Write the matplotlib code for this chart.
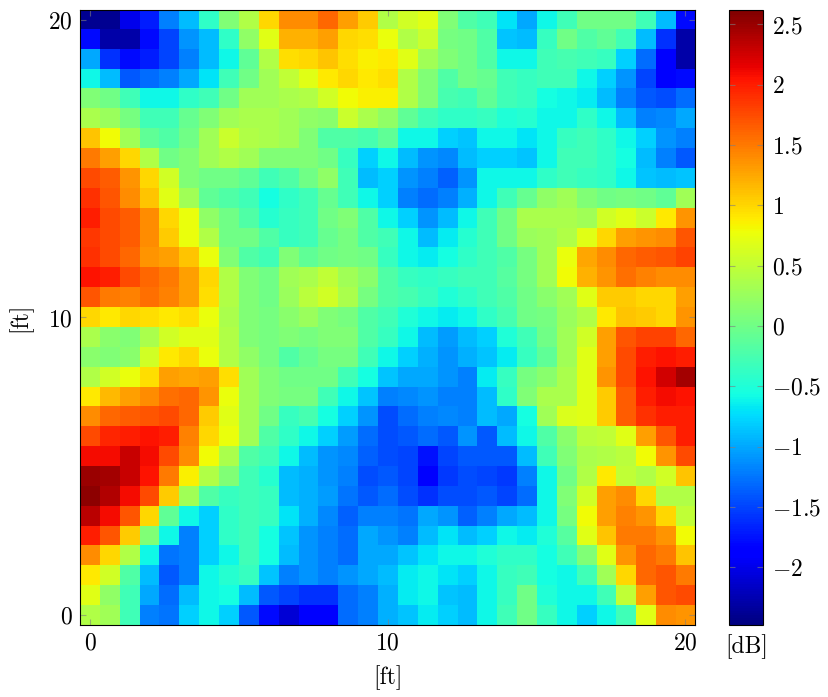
import numpy as np
import matplotlib
matplotlib.use("Agg")
import matplotlib.pyplot as plt
from matplotlib.ticker import FuncFormatter

plt.rcParams['font.family'] = 'serif'
plt.rcParams['font.serif'] = ['cmr10']
plt.rcParams['mathtext.fontset'] = 'cm'
plt.rcParams['axes.formatter.use_mathtext'] = True
plt.rcParams['font.size'] = 17

# level difference in dB, rows from y = 20 ft (top) down to y = 0 ft,
# columns from x = 0 to x = 20 ft, grid step 2/3 ft
row_00 = [-2.4, -2.4, -2.0, -1.7, -1.2, -0.9, -0.4, 0.1, 0.4, 1.0, 1.4, 1.4, 1.6, 1.3, 1.05, 0.4, 0.6, 0.7, 0.1, -0.2, -0.3, -0.7, -1.0, -0.6, -0.3, 0.0, 0.0, 0.0, -0.3, -0.9, -1.8]
row_01 = [-1.8, -2.3, -2.3, -1.8, -1.5, -1.1, -0.9, -0.4, 0.2, 0.7, 1.2, 1.2, 1.3, 1.0, 0.95, 0.75, 0.4, 0.55, 0.05, 0.0, -0.2, -0.85, -0.9, -0.35, 0.0, -0.2, -0.1, -0.3, -0.9, -1.6, -2.3]
row_02 = [-1.0, -1.6, -1.8, -1.7, -1.5, -1.2, -0.9, -0.6, -0.1, 0.4, 0.95, 1.0, 1.1, 0.95, 0.85, 0.9, 0.7, 0.3, 0.1, 0.0, -0.2, -0.6, -0.6, -0.3, -0.25, -0.3, -0.35, -0.8, -1.3, -1.9, -2.3]
row_03 = [-0.6, -0.9, -1.4, -1.3, -1.2, -1.0, -0.7, -0.3, 0.0, 0.3, 0.5, 0.7, 0.9, 1.0, 0.9, 0.95, 0.4, 0.1, -0.2, 0.0, -0.05, -0.3, -0.35, -0.3, -0.3, -0.6, -0.8, -1.1, -1.5, -1.9, -1.8]
row_04 = [0.1, 0.0, -0.3, -0.6, -0.6, -0.4, -0.3, 0.0, 0.3, 0.3, 0.35, 0.4, 0.6, 0.8, 0.85, 0.85, 0.4, 0.1, -0.25, -0.3, -0.1, -0.3, -0.35, -0.55, -0.6, -0.65, -0.9, -1.2, -1.4, -1.45, -1.3]
row_05 = [0.35, 0.25, 0.05, -0.3, -0.3, -0.05, 0.1, 0.3, 0.35, 0.35, 0.3, 0.2, 0.15, 0.55, 0.35, 0.2, -0.1, -0.3, -0.4, -0.4, -0.35, -0.5, -0.45, -0.6, -0.6, -0.4, -0.6, -0.9, -1.2, -1.15, -1.0]
row_06 = [1.1, 0.8, 0.3, -0.1, -0.2, 0.0, 0.3, 0.55, 0.4, 0.35, 0.3, 0.1, -0.2, -0.2, -0.25, -0.1, -0.6, -0.6, -0.8, -0.85, -0.6, -0.6, -0.7, -0.6, -0.35, -0.3, -0.4, -0.6, -0.8, -1.1, -1.2]
row_07 = [1.5, 1.3, 1.0, 0.4, 0.0, 0.1, 0.3, 0.4, 0.3, 0.1, 0.1, 0.1, 0.0, -0.35, -0.8, -0.6, -0.9, -1.1, -1.15, -0.9, -0.8, -0.8, -0.85, -0.6, -0.3, -0.3, -0.4, -0.55, -0.9, -1.2, -1.4]
row_08 = [1.75, 1.65, 1.35, 1.0, 0.6, 0.1, 0.0, 0.0, -0.1, -0.3, -0.2, 0.0, 0.2, -0.3, -0.9, -0.8, -1.1, -1.2, -1.35, -1.1, -0.6, -0.6, -0.6, -0.4, -0.3, -0.35, -0.4, -0.6, -0.85, -0.9, -0.85]
row_09 = [1.9, 1.7, 1.4, 1.1, 0.7, 0.3, -0.1, -0.2, -0.3, -0.55, -0.4, -0.3, -0.05, -0.3, -0.6, -0.8, -1.2, -1.3, -1.2, -0.95, -0.6, -0.3, -0.05, 0.2, 0.3, 0.1, 0.0, 0.05, 0.0, -0.1, 0.3]
row_10 = [2.0, 1.75, 1.65, 1.4, 1.0, 0.75, 0.2, 0.0, -0.2, -0.45, -0.35, -0.3, 0.0, 0.1, -0.2, -0.6, -0.8, -1.1, -0.9, -0.6, -0.3, 0.0, 0.35, 0.35, 0.35, 0.3, 0.6, 0.7, 0.55, 0.9, 1.35]
row_11 = [1.85, 1.75, 1.65, 1.4, 1.05, 0.75, 0.4, 0.0, 0.0, -0.2, -0.35, -0.3, -0.05, 0.05, -0.2, -0.3, -0.6, -0.9, -0.65, -0.45, -0.3, 0.0, 0.25, 0.3, 0.4, 0.7, 1.0, 1.3, 1.35, 1.4, 1.7]
row_12 = [1.9, 1.75, 1.6, 1.35, 1.3, 1.1, 0.75, 0.1, -0.2, -0.3, 0.1, -0.1, 0.0, 0.05, 0.0, -0.35, -0.6, -0.65, -0.55, -0.4, -0.3, -0.2, 0.05, 0.3, 0.75, 1.25, 1.4, 1.6, 1.65, 1.7, 1.8]
row_13 = [2.05, 2.0, 1.75, 1.6, 1.5, 1.3, 1.0, 0.4, 0.1, 0.0, 0.3, 0.35, 0.5, 0.3, 0.15, -0.2, -0.35, -0.4, -0.35, -0.3, -0.3, -0.15, 0.05, 0.3, 0.8, 1.2, 1.35, 1.55, 1.45, 1.4, 1.4]
row_14 = [1.7, 1.5, 1.45, 1.55, 1.45, 1.3, 0.95, 0.4, 0.1, 0.0, 0.25, 0.45, 0.6, 0.35, 0.05, -0.2, -0.25, -0.35, -0.5, -0.4, -0.3, -0.2, 0.0, 0.15, 0.3, 0.7, 1.05, 1.05, 1.0, 1.0, 1.3]
row_15 = [1.0, 0.9, 1.0, 0.95, 0.9, 0.95, 0.75, 0.35, 0.1, 0.05, 0.15, 0.25, 0.1, 0.05, -0.2, -0.3, -0.5, -0.6, -0.65, -0.6, -0.4, -0.25, 0.0, 0.05, 0.25, 0.4, 0.9, 1.1, 1.05, 1.0, 1.35]
row_16 = [0.35, 0.15, 0.1, 0.35, 0.6, 0.7, 0.7, 0.4, 0.1, 0.05, 0.1, 0.05, 0.1, 0.1, -0.2, -0.35, -0.6, -0.9, -1.05, -0.9, -0.8, -0.5, -0.3, 0.0, 0.3, 0.6, 1.3, 1.7, 1.8, 1.8, 1.6]
row_17 = [0.15, 0.1, 0.15, 0.6, 0.9, 1.0, 0.75, 0.4, 0.2, 0.05, -0.2, -0.05, 0.05, 0.05, -0.3, -0.6, -0.8, -0.95, -1.1, -0.95, -0.85, -0.65, -0.35, -0.1, 0.3, 0.7, 1.3, 1.75, 2.0, 2.05, 2.0]
row_18 = [0.4, 0.6, 0.75, 0.95, 1.3, 1.25, 1.3, 0.95, 0.3, 0.1, 0.0, 0.0, 0.0, -0.3, -0.55, -0.85, -1.0, -1.0, -1.1, -1.2, -0.65, -0.35, 0.05, 0.15, 0.35, 0.7, 1.35, 1.75, 2.05, 2.25, 2.45]
row_19 = [0.9, 1.15, 1.3, 1.4, 1.55, 1.6, 1.35, 0.75, 0.3, 0.1, 0.05, 0.05, -0.3, -0.6, -0.85, -1.2, -1.15, -1.1, -1.2, -1.2, -0.9, -0.4, 0.1, 0.35, 0.35, 0.7, 1.05, 1.65, 2.0, 2.1, 2.05]
row_20 = [1.4, 1.6, 1.65, 1.7, 1.75, 1.6, 1.05, 0.7, 0.3, 0.0, -0.35, -0.25, -0.55, -0.8, -1.1, -1.45, -1.3, -1.2, -1.15, -1.2, -0.9, -1.0, -0.55, 0.3, 0.65, 0.7, 1.05, 1.65, 1.9, 2.0, 2.0]
row_21 = [1.75, 1.95, 2.0, 2.05, 2.0, 1.45, 1.0, 0.75, 0.3, -0.2, -0.4, -0.6, -0.8, -1.05, -1.3, -1.45, -1.4, -1.3, -1.4, -1.1, -1.4, -0.9, -0.6, -0.2, 0.15, 0.45, 0.5, 0.7, 1.3, 1.7, 2.0]
row_22 = [2.1, 2.1, 2.3, 2.1, 1.75, 1.4, 0.8, 0.35, -0.2, -0.3, -0.6, -0.9, -1.1, -1.15, -1.35, -1.45, -1.5, -1.75, -1.5, -1.4, -1.4, -1.4, -0.9, -0.3, 0.1, 0.35, 0.4, 0.45, 0.8, 1.35, 1.75]
row_23 = [2.5, 2.45, 2.3, 2.05, 1.5, 0.85, 0.4, 0.1, -0.3, -0.45, -0.9, -0.95, -1.1, -1.2, -1.45, -1.4, -1.5, -1.85, -1.55, -1.45, -1.5, -1.55, -1.2, -0.6, 0.0, 0.4, 0.9, 0.5, 0.4, 0.6, 1.1]
row_24 = [2.55, 2.4, 2.1, 1.75, 1.05, 0.3, -0.2, -0.35, -0.3, -0.35, -0.9, -0.95, -1.05, -1.25, -1.4, -1.3, -1.45, -1.6, -1.45, -1.45, -1.4, -1.5, -1.3, -0.6, 0.1, 0.6, 1.3, 1.4, 1.0, 0.4, 0.4]
row_25 = [2.35, 2.1, 1.7, 1.0, -0.1, -0.6, -0.8, -0.4, -0.3, -0.35, -0.7, -0.95, -1.15, -1.35, -1.2, -1.2, -1.25, -1.0, -1.1, -1.35, -1.2, -1.0, -0.9, -0.6, 0.05, 0.8, 1.3, 1.45, 1.35, 1.0, 0.5]
row_26 = [2.0, 1.7, 1.05, 0.1, -0.6, -1.2, -0.8, -0.4, -0.3, -0.55, -0.85, -1.1, -1.2, -1.3, -1.0, -1.1, -1.2, -0.9, -0.7, -0.9, -0.8, -0.6, -0.65, -0.5, -0.15, 0.7, 1.1, 1.5, 1.5, 1.35, 0.8]
row_27 = [1.4, 1.0, 0.4, -0.6, -1.25, -1.2, -0.8, -0.6, -0.3, -0.55, -0.9, -1.1, -1.2, -1.3, -1.0, -1.0, -0.85, -0.7, -0.6, -0.6, -0.5, -0.4, -0.4, -0.55, -0.3, 0.1, 0.7, 1.35, 1.6, 1.5, 1.1]
row_28 = [0.9, 0.6, -0.2, -0.9, -1.4, -1.2, -0.6, -0.45, -0.35, -0.85, -1.2, -1.1, -1.2, -1.1, -1.0, -0.9, -0.65, -0.6, -0.7, -0.8, -0.6, -0.35, -0.3, -0.55, -0.6, -0.3, 0.3, 1.0, 1.6, 1.7, 1.5]
row_29 = [0.7, 0.2, -0.3, -1.0, -1.3, -0.9, -0.6, -0.55, -0.9, -1.4, -1.5, -1.6, -1.6, -1.3, -1.2, -0.95, -0.65, -0.6, -0.85, -0.9, -0.6, -0.35, 0.0, -0.5, -0.6, -0.6, -0.3, 0.5, 1.3, 1.7, 1.75]
row_30 = [0.4, 0.3, -0.3, -1.2, -1.25, -0.8, -0.6, -0.8, -1.4, -1.8, -2.1, -1.9, -1.85, -1.3, -1.2, -0.95, -0.85, -0.65, -0.8, -0.9, -0.6, -0.3, 0.0, -0.35, -0.6, -0.8, -0.6, -0.3, 0.7, 1.4, 1.35]

rows = [row_00, row_01, row_02, row_03, row_04, row_05, row_06, row_07,
        row_08, row_09, row_10, row_11, row_12, row_13, row_14, row_15,
        row_16, row_17, row_18, row_19, row_20, row_21, row_22, row_23,
        row_24, row_25, row_26, row_27, row_28, row_29, row_30]

x_ticks = [0, 10, 20]
y_ticks = [0, 10, 20]
cbar_ticks = [-2, -1.5, -1, -0.5, 0, 0.5, 1, 1.5, 2, 2.5]


def main():
    level = np.array(rows)
    half = 20 / (len(row_00) - 1) / 2

    fig = plt.figure(figsize=(8.29, 6.97), dpi=100)
    ax = fig.add_axes([0.0965, 0.1033, 0.742, 0.8824])
    cax = fig.add_axes([0.8797, 0.1033, 0.041, 0.8824])

    im = ax.imshow(level, cmap='jet', vmin=-2.48, vmax=2.62,
                   extent=[-half, 20 + half, -half, 20 + half],
                   origin='upper', interpolation='nearest', aspect='auto')
    ax.set_xticks(x_ticks)
    ax.set_yticks(y_ticks)
    ax.tick_params(direction='in', top=True, right=True, length=4,
                   color=(0.5, 0.5, 0.5, 0.6), pad=5)
    ax.set_xlabel('[ft]', labelpad=8)
    ax.set_ylabel('[ft]', labelpad=12)

    cb = fig.colorbar(im, cax=cax, ticks=cbar_ticks,
                      format=FuncFormatter(lambda v, _: '$%g$' % v))
    cb.ax.tick_params(direction='in', left=True, right=True, length=4,
                      color=(0.5, 0.5, 0.5, 0.6), pad=6)
    cb.ax.set_xlabel('[dB]', labelpad=7)
    cb.ax.xaxis.set_label_position('bottom')

    plt.savefig("out.png")


if __name__ == "__main__":
    main()
